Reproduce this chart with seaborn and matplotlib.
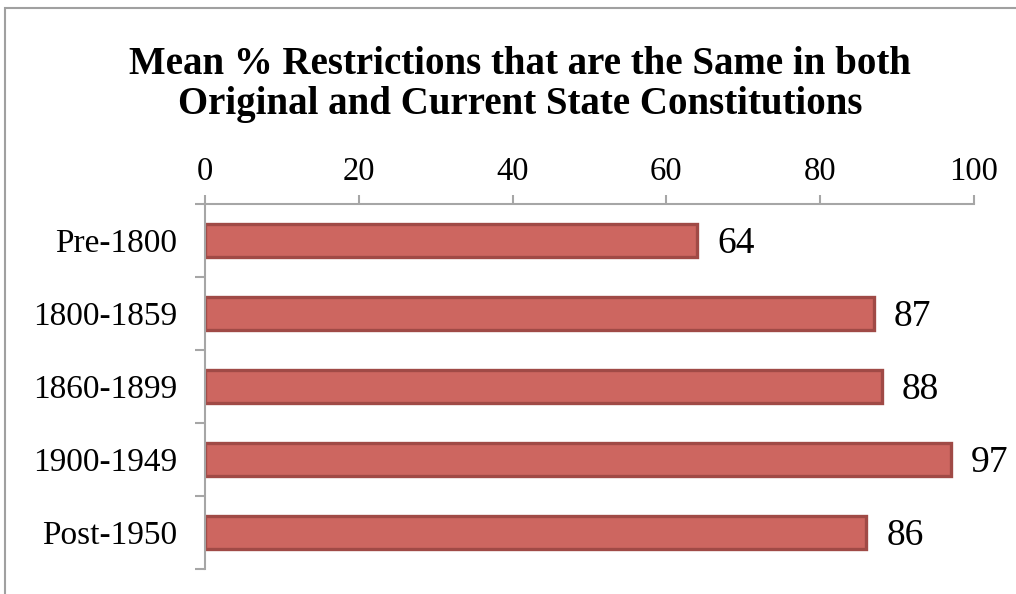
import matplotlib
matplotlib.use("Agg")
import matplotlib.pyplot as plt
from matplotlib.patches import Rectangle
import seaborn as sns
import pandas as pd

periods = ["Pre-1800", "1800-1859", "1860-1899", "1900-1949", "Post-1950"]
mean_same = [64, 87, 88, 97, 86]
x_ticks = [0, 20, 40, 60, 80, 100]

sns.set_theme(style="white")
plt.rcParams["font.family"] = ["Liberation Serif", "DejaVu Serif"]
plt.rcParams["text.color"] = "black"

df = pd.DataFrame({"period": periods, "value": mean_same})

W, H = 1016, 594
fig = plt.figure(figsize=(W / 100, H / 100), dpi=100)
ax = fig.add_axes([205 / W, 1 - 569 / H, (974 - 205) / W, (569 - 204) / H])

sns.barplot(data=df, x="value", y="period", orient="h", ax=ax,
            color="#CD6660", saturation=1, width=0.44,
            edgecolor="#A04A46", linewidth=2.4)

ax.set_xlim(0, 100)
ax.set_ylim(4.5, -0.5)
ax.set_xticks(x_ticks)
ax.xaxis.tick_top()
ax.xaxis.set_label_position("top")
ax.set_xlabel("")
ax.set_ylabel("")

grey = "#A6A6A6"
for side in ["right", "bottom"]:
    ax.spines[side].set_visible(False)
for side in ["top", "left"]:
    ax.spines[side].set_color(grey)
    ax.spines[side].set_linewidth(1.5)

ax.tick_params(axis="x", which="major", direction="out", length=6.5, width=1.5,
               color=grey, labelsize=23.5, pad=6, labelcolor="black",
               top=True, bottom=False)
# category labels centered, separator ticks between categories
ax.set_yticks(range(len(periods)))
ax.set_yticklabels(periods)
ax.tick_params(axis="y", which="major", length=0, labelsize=24, pad=20,
               labelcolor="black")
ax.set_yticks([i - 0.5 for i in range(len(periods) + 1)], minor=True)
ax.tick_params(axis="y", which="minor", direction="out", length=7, width=1.5,
               color=grey, left=True)

for i, v in enumerate(mean_same):
    ax.text(v + 2.6, i + 0.05, f"{v}", va="center", ha="left",
            fontsize=27, color="black")

fig.text(0.512, 0.858, "Mean % Restrictions that are the Same in both\nOriginal and Current State Constitutions",
         ha="center", va="center", fontsize=28, fontweight="bold",
         linespacing=1.1, color="black")

fig.patches.append(Rectangle((5 / W, -0.1), 1.2, 1 - 8 / H + 0.1,
                             transform=fig.transFigure, fill=False,
                             edgecolor="#A0A0A0", linewidth=1.5))

fig.savefig("out.png", dpi=100)
